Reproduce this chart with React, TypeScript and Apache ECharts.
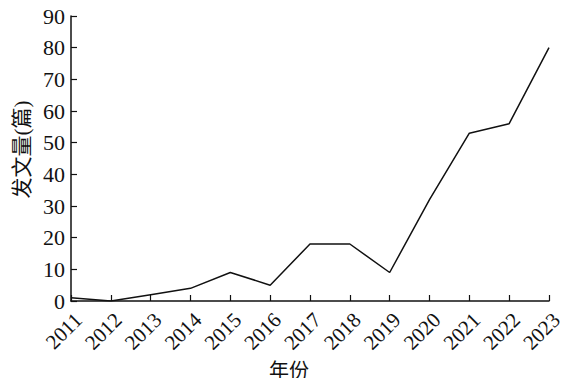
import React, { useEffect, useRef } from "react";
import * as echarts from "echarts";

const years = ["2011","2012","2013","2014","2015","2016","2017","2018","2019","2020","2021","2022","2023"];
const counts = [1, 0, 2, 4, 9, 5, 18, 18, 9, 32, 53, 56, 80];
const yTicks = { min: 0, max: 90, interval: 10 };

export default function App() {
  const ref = useRef<HTMLDivElement>(null);
  useEffect(() => {
    const chart = echarts.init(ref.current!, null, { renderer: "svg" });
    const font = "'Liberation Serif', 'Times New Roman', 'Noto Sans CJK SC', serif";
    chart.setOption({
      animation: false,
      backgroundColor: "#fff",
      grid: { left: 71, right: 15, top: 16, bottom: 77, containLabel: false, outerBoundsMode: "none" },
      xAxis: {
        type: "category",
        data: years,
        boundaryGap: false,
        name: "年份",
        nameLocation: "middle",
        nameGap: 49,
        nameTextStyle: { fontFamily: font, fontSize: 20, lineHeight: 20, color: "#111", verticalAlign: "top", padding: [0, 42, 0, 0] },
        axisLine: { lineStyle: { color: "#111", width: 1.5 } },
        axisTick: { inside: true, length: 6, lineStyle: { color: "#111", width: 1.2 }, alignWithLabel: true },
        axisLabel: { rotate: 45, fontFamily: font, fontSize: 21, color: "#111", margin: 8, interval: 0, verticalAlign: "top" },
        splitLine: { show: false },
      },
      yAxis: {
        type: "value",
        min: yTicks.min,
        max: yTicks.max,
        interval: yTicks.interval,
        name: "发文量(篇)",
        nameLocation: "middle",
        nameGap: 38,
        nameTextStyle: { fontFamily: font, fontSize: 21, color: "#111", padding: [0, 0, 0, 18] },
        axisLine: { show: true, lineStyle: { color: "#111", width: 1.5 } },
        axisTick: { show: true, inside: true, length: 6, lineStyle: { color: "#111", width: 1.2 } },
        axisLabel: { fontFamily: font, fontSize: 22, color: "#111", margin: 6 },
        splitLine: { show: false },
      },
      series: [
        {
          type: "line",
          data: counts,
          symbol: "none",
          lineStyle: { color: "#111", width: 1.5 },
        },
      ],
    });
    return () => chart.dispose();
  }, []);
  return <div ref={ref} style={{ width: 564, height: 378, position: "absolute", left: 0, top: 0 }} />;
}
